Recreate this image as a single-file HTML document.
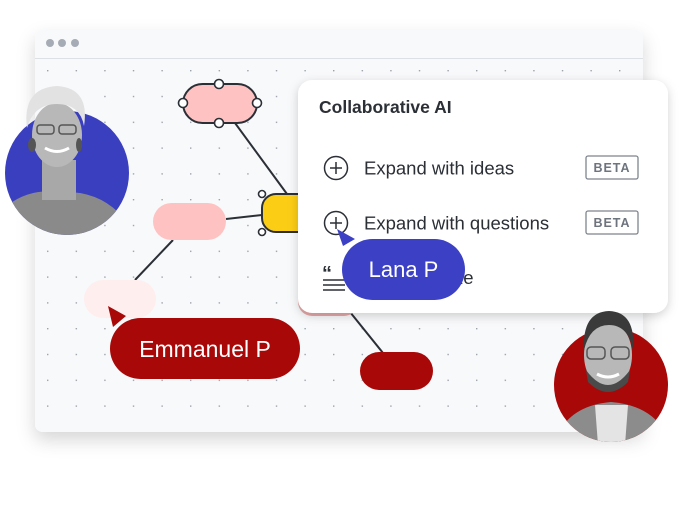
<!DOCTYPE html>
<html><head><meta charset="utf-8"><style>
html,body{margin:0;padding:0;background:#fff;}
body{width:680px;height:510px;overflow:hidden;position:relative;font-family:"Liberation Sans",sans-serif;}
</style></head><body>
<svg width="680" height="510" viewBox="0 0 680 510" xmlns="http://www.w3.org/2000/svg" style="position:absolute;left:0;top:0">
<defs>
<filter id="sh" x="-20%" y="-20%" width="140%" height="150%"><feDropShadow dx="0" dy="8" stdDeviation="9" flood-color="#000" flood-opacity="0.16"/></filter>
<filter id="sh2" x="-20%" y="-20%" width="140%" height="150%"><feDropShadow dx="0" dy="3" stdDeviation="5" flood-color="#000" flood-opacity="0.18"/></filter>
<pattern id="dots" x="47" y="70" width="28.6" height="25.8" patternUnits="userSpaceOnUse"><circle cx="0.7" cy="0.7" r="0.8" fill="#9aa0aa"/></pattern>
<clipPath id="c1"><circle cx="67" cy="173" r="62"/><rect x="5" y="80" width="124" height="93"/></clipPath>
<clipPath id="c2"><circle cx="611" cy="385" r="57"/><rect x="554" y="300" width="114" height="85"/></clipPath>
</defs>
<!-- window -->
<rect x="35" y="30" width="608" height="402" rx="8" fill="#f8f9fb" filter="url(#sh)"/>
<rect x="35" y="30" width="608" height="402" rx="8" fill="#f8f9fb"/>
<line x1="35" y1="58.5" x2="643" y2="58.5" stroke="#dde0e5" stroke-width="1"/>
<circle cx="50" cy="43" r="4" fill="#a6acb6"/><circle cx="62" cy="43" r="4" fill="#a6acb6"/><circle cx="75" cy="43" r="4" fill="#a6acb6"/>
<rect x="40" y="62" width="600" height="366" fill="url(#dots)"/>
<!-- connectors -->
<g stroke="#2b2f36" stroke-width="2" fill="none">
<line x1="235" y1="123" x2="287" y2="194"/>
<line x1="226" y1="219" x2="262" y2="215"/>
<line x1="173" y1="240" x2="135" y2="280"/>
<line x1="350" y1="312" x2="383" y2="353"/>
</g>
<!-- nodes -->
<rect x="183" y="84" width="74" height="39" rx="19.5" fill="#ffc2c2" stroke="#2b2f36" stroke-width="2"/>
<g fill="#fff" stroke="#2b2f36" stroke-width="1.6">
<circle cx="219" cy="84" r="4.5"/><circle cx="257" cy="103" r="4.5"/><circle cx="219" cy="123" r="4.5"/><circle cx="183" cy="103" r="4.5"/>
</g>
<rect x="262" y="194" width="60" height="38" rx="14" fill="#fccd15" stroke="#2b2f36" stroke-width="2"/>
<g fill="#fff" stroke="#2b2f36" stroke-width="1.6"><circle cx="262" cy="194" r="3.5"/><circle cx="262" cy="232" r="3.5"/></g>
<rect x="153" y="203" width="73" height="37" rx="18.5" fill="#ffc2c2"/>
<rect x="84" y="280" width="72" height="38" rx="19" fill="#ffeeee"/>
<rect x="360" y="352" width="73" height="38" rx="19" fill="#a80808"/>
<rect x="298" y="270" width="60" height="46" rx="14" fill="#e8a8a8"/>
<!-- panel -->
<rect x="298" y="80" width="370" height="233" rx="14" fill="#fff" filter="url(#sh2)"/>
<text x="319" y="113" font-size="17.5" font-weight="bold" fill="#2b2f36">Collaborative AI</text>
<g stroke="#2b2f36" stroke-width="1.5" fill="none">
<circle cx="336" cy="168" r="11.5"/><line x1="330" y1="168" x2="342" y2="168"/><line x1="336" y1="162" x2="336" y2="174"/>
<circle cx="336" cy="223" r="11.5"/><line x1="330" y1="223" x2="342" y2="223"/><line x1="336" y1="217" x2="336" y2="229"/>
</g>
<text x="364" y="174.5" font-size="18.5" fill="#2b2f36">Expand with ideas</text>
<text x="364" y="229.5" font-size="18.5" fill="#2b2f36">Expand with questions</text>
<g>
<rect x="586" y="156" width="52" height="23" rx="2" fill="#fff" stroke="#7e848e" stroke-width="1.3"/>
<text x="612" y="172" font-size="12.5" font-weight="bold" fill="#6e747e" text-anchor="middle" letter-spacing="1">BETA</text>
<rect x="586" y="211" width="52" height="23" rx="2" fill="#fff" stroke="#7e848e" stroke-width="1.3"/>
<text x="612" y="227" font-size="12.5" font-weight="bold" fill="#6e747e" text-anchor="middle" letter-spacing="1">BETA</text>
</g>
<text x="322" y="280" font-size="20" font-weight="bold" fill="#2b2f36">“</text>
<g stroke="#2b2f36" stroke-width="1.4"><line x1="323" y1="280" x2="345" y2="280"/><line x1="323" y1="285" x2="345" y2="285"/><line x1="323" y1="290" x2="345" y2="290"/></g>
<text x="380" y="284" font-size="18.5" fill="#2b2f36">Summarize</text>
<!-- Lana -->
<path d="M337,229 L355,239 L343,246 Z" fill="#3b40c4"/>
<rect x="342" y="239" width="123" height="61" rx="30.5" fill="#3b40c4"/>
<text x="403.5" y="277" font-size="22" fill="#fff" text-anchor="middle">Lana P</text>
<!-- Emmanuel -->
<path d="M108,306 L126,316 L113,327 Z" fill="#a80808"/>
<rect x="110" y="318" width="190" height="61" rx="30.5" fill="#a80808"/>
<text x="205" y="357" font-size="23" fill="#fff" text-anchor="middle">Emmanuel P</text>
<!-- woman avatar -->
<circle cx="67" cy="173" r="62" fill="#3a3fc0"/>
<g clip-path="url(#c1)">
<path d="M8,205 Q30,188 60,192 Q95,190 118,212 L125,240 L5,240 Z" fill="#8a8a8a"/>
<rect x="42" y="160" width="34" height="40" fill="#a8a8a8"/>
<ellipse cx="57" cy="135" rx="25" ry="32" fill="#b8b8b8"/>
<path d="M27,128 Q22,88 57,86 Q90,88 84,126 Q80,104 57,104 Q34,104 27,128Z" fill="#e2e2e2"/>
<rect x="37" y="125" width="17" height="9" rx="3" fill="none" stroke="#555" stroke-width="1.5"/>
<rect x="59" y="125" width="17" height="9" rx="3" fill="none" stroke="#555" stroke-width="1.5"/>
<path d="M45,148 Q57,155 69,148" stroke="#fff" stroke-width="3" fill="none"/>
<ellipse cx="32" cy="145" rx="4" ry="7" fill="#555"/><ellipse cx="79" cy="145" rx="3" ry="7" fill="#555"/>
</g>
<!-- man avatar -->
<circle cx="611" cy="385" r="57" fill="#a80808"/>
<g clip-path="url(#c2)">
<path d="M560,430 Q575,405 611,402 Q648,405 664,430 L668,445 L554,445 Z" fill="#8c8c8c"/>
<path d="M595,405 L628,405 L625,445 L598,445Z" fill="#e4e4e4"/>
<ellipse cx="608" cy="355" rx="24" ry="34" fill="#b8b8b8"/>
<path d="M584,350 Q582,312 609,311 Q636,312 633,350 Q628,325 609,325 Q590,325 584,350Z" fill="#3a3a3a"/>
<path d="M586,370 Q608,400 630,370 L628,382 Q608,402 588,382Z" fill="#4a4a4a"/>
<rect x="587" y="347" width="18" height="12" rx="4" fill="none" stroke="#555" stroke-width="1.5"/>
<rect x="611" y="347" width="18" height="12" rx="4" fill="none" stroke="#555" stroke-width="1.5"/>
<path d="M597,374 Q608,380 619,374" stroke="#fff" stroke-width="3" fill="none"/>
</g>
</svg>
</body></html>
